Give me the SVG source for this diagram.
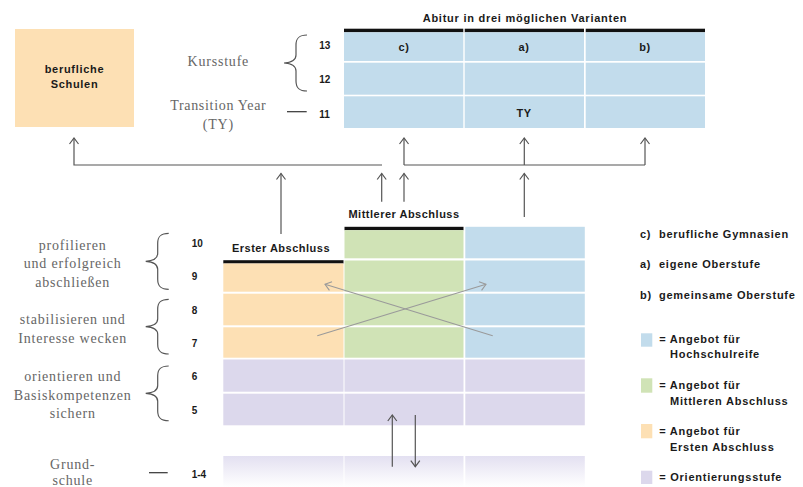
<svg xmlns="http://www.w3.org/2000/svg" width="803" height="487" viewBox="0 0 803 487">
<style>
.serif{font-family:"Liberation Serif","DejaVu Serif",serif;font-size:14px;fill:#666;letter-spacing:0.8px;text-anchor:middle}
.lbl{font-family:"Liberation Sans",Arial,sans-serif;font-weight:bold;font-size:11px;fill:#1a1a1a;letter-spacing:0.5px;text-anchor:middle}
.leg{font-family:"Liberation Sans",Arial,sans-serif;font-weight:bold;font-size:11px;fill:#1a1a1a;letter-spacing:0.75px}
.num{font-family:"Liberation Sans",Arial,sans-serif;font-weight:bold;font-size:10px;fill:#1a1a1a}
.blue{fill:#c2dcec}.green{fill:#d0e3b6}.orange{fill:#fde0b4}.purple{fill:#dcd8ec}.fade{fill:url(#fade)}
.bar{fill:#111}
.brace{fill:none;stroke:#555;stroke-width:1.2}
.dash{stroke:#333;stroke-width:1.2}
.conn{fill:none;stroke:#555;stroke-width:1.2}
.diag{fill:none;stroke:#9a9a9a;stroke-width:1.1}
</style>
<defs>
<linearGradient id="fade" x1="0" y1="0" x2="0" y2="1">
<stop offset="0" stop-color="#e3e0f1"/>
<stop offset="1" stop-color="#ffffff"/>
</linearGradient>
<marker id="ah" viewBox="-8 -6 10 12" refX="0" refY="0" markerWidth="10" markerHeight="12" markerUnits="userSpaceOnUse" orient="auto">
<path d="M-6,-4.5 L0,0 L-6,4.5" fill="none" stroke="#555" stroke-width="1.2"/>
</marker>
<marker id="ahg" viewBox="-8 -6 10 12" refX="0" refY="0" markerWidth="10" markerHeight="12" markerUnits="userSpaceOnUse" orient="auto">
<path d="M-6,-4.5 L0,0 L-6,4.5" fill="none" stroke="#9a9a9a" stroke-width="1.1"/>
</marker>
<path id="br" d="M23,0 C15,0 12,3 12,10 L12,20 C12,25 8,27.5 0,28 C8,28.5 12,31 12,36 L12,46 C12,53 15,56 23,56"/>
</defs>

<g id="berufliche-schulen">
<rect x="15" y="29" width="119" height="98" class="orange"/>
<text class="lbl" x="74.5" y="73.3" style="letter-spacing:0.7px">berufliche</text>
<text class="lbl" x="74.5" y="88" style="letter-spacing:0.7px">Schulen</text>
</g>

<g id="abitur-table">
<text class="lbl" x="525" y="21.5" style="letter-spacing:0.75px">Abitur in drei möglichen Varianten</text>
<rect x="344" y="28.7" width="119.3" height="3.6" class="bar"/>
<rect x="464.7" y="28.7" width="119.3" height="3.6" class="bar"/>
<rect x="585.7" y="28.7" width="119.3" height="3.6" class="bar"/>
<rect x="344" y="32.3" width="119.3" height="28.7" class="blue"/>
<rect x="464.7" y="32.3" width="119.3" height="28.7" class="blue"/>
<rect x="585.7" y="32.3" width="119.3" height="28.7" class="blue"/>
<rect x="344" y="62.7" width="119.3" height="32" class="blue"/>
<rect x="464.7" y="62.7" width="119.3" height="32" class="blue"/>
<rect x="585.7" y="62.7" width="119.3" height="32" class="blue"/>
<rect x="344" y="96.3" width="119.3" height="31.7" class="blue"/>
<rect x="464.7" y="96.3" width="119.3" height="31.7" class="blue"/>
<rect x="585.7" y="96.3" width="119.3" height="31.7" class="blue"/>
<text class="lbl" x="404" y="51">c)</text>
<text class="lbl" x="524" y="51">a)</text>
<text class="lbl" x="645" y="51">b)</text>
<text class="lbl" x="524" y="117">TY</text>
</g>

<g id="upper-labels">
<text class="serif" x="218.3" y="66">Kursstufe</text>
<text class="serif" x="218.3" y="110" style="letter-spacing:0.7px">Transition Year</text>
<text class="serif" x="218.3" y="129">(TY)</text>
<use href="#br" class="brace" transform="translate(284,35)"/>
<line x1="287" y1="111.7" x2="306.7" y2="111.7" class="dash"/>
<text class="num" x="319.3" y="49.3">13</text>
<text class="num" x="319.3" y="83">12</text>
<text class="num" x="319.3" y="117.6">11</text>
</g>

<g id="lower-table">
<rect x="344.5" y="226.8" width="119" height="3.4" class="bar"/>
<rect x="223.3" y="260.2" width="120.2" height="3.3" class="bar"/>
<text class="lbl" x="404" y="218">Mittlerer Abschluss</text>
<text class="lbl" x="281" y="252">Erster Abschluss</text>
<rect x="344.5" y="230.2" width="119" height="28.1" class="green"/>
<rect x="465.3" y="226.8" width="119.5" height="31.5" class="blue"/>
<rect x="223.3" y="263.5" width="120.2" height="28.2" class="orange"/>
<rect x="344.5" y="260.5" width="119" height="31.2" class="green"/>
<rect x="465.3" y="260.5" width="119.5" height="31.2" class="blue"/>
<rect x="223.3" y="293.7" width="120.2" height="31.6" class="orange"/>
<rect x="344.5" y="293.7" width="119" height="31.6" class="green"/>
<rect x="465.3" y="293.7" width="119.5" height="31.6" class="blue"/>
<rect x="223.3" y="327.3" width="120.2" height="30.4" class="orange"/>
<rect x="344.5" y="327.3" width="119" height="30.4" class="green"/>
<rect x="465.3" y="327.3" width="119.5" height="30.4" class="blue"/>
<rect x="223.3" y="359.5" width="120.2" height="32.2" class="purple"/>
<rect x="344.5" y="359.5" width="119" height="32.2" class="purple"/>
<rect x="465.3" y="359.5" width="119.5" height="32.2" class="purple"/>
<rect x="223.3" y="393.7" width="120.2" height="31.6" class="purple"/>
<rect x="344.5" y="393.7" width="119" height="31.6" class="purple"/>
<rect x="465.3" y="393.7" width="119.5" height="31.6" class="purple"/>
<rect x="223.3" y="456" width="120.2" height="31" class="fade"/>
<rect x="344.5" y="456" width="119" height="31" class="fade"/>
<rect x="465.3" y="456" width="119.5" height="31" class="fade"/>
</g>

<g id="lower-labels">
<text class="serif" x="72.7" y="250">profilieren</text>
<text class="serif" x="72.7" y="268.3">und erfolgreich</text>
<text class="serif" x="72.7" y="286.7">abschließen</text>
<text class="serif" x="72.7" y="324.3">stabilisieren und</text>
<text class="serif" x="72.7" y="342.7">Interesse wecken</text>
<text class="serif" x="72.7" y="381">orientieren und</text>
<text class="serif" x="72.7" y="400">Basiskompetenzen</text>
<text class="serif" x="72.7" y="418.3">sichern</text>
<text class="serif" x="72.7" y="469">Grund-</text>
<text class="serif" x="72.7" y="484.5">schule</text>
<use href="#br" class="brace" transform="translate(145.7,233.3)"/>
<use href="#br" class="brace" transform="translate(145.7,299.3) scale(1,0.977)"/>
<use href="#br" class="brace" transform="translate(145.7,366) scale(1,0.977)"/>
<line x1="149" y1="472.7" x2="167.7" y2="472.7" class="dash"/>
<text class="num" x="191.7" y="247">10</text>
<text class="num" x="191.7" y="280.3">9</text>
<text class="num" x="191.7" y="313.6">8</text>
<text class="num" x="191.7" y="347">7</text>
<text class="num" x="191.7" y="380.3">6</text>
<text class="num" x="191.7" y="413.6">5</text>
<text class="num" x="191.7" y="477.6">1-4</text>
</g>

<g id="connectors">
<polyline points="382,165 74,165 74,138" class="conn" marker-end="url(#ah)"/>
<line x1="404" y1="165" x2="645" y2="165" class="conn"/>
<line x1="404" y1="165" x2="404" y2="138" class="conn" marker-end="url(#ah)"/>
<line x1="524.3" y1="165" x2="524.3" y2="138" class="conn" marker-end="url(#ah)"/>
<line x1="645" y1="165" x2="645" y2="138" class="conn" marker-end="url(#ah)"/>
<line x1="281" y1="234" x2="281" y2="173.5" class="conn" marker-end="url(#ah)"/>
<line x1="381.7" y1="201.7" x2="381.7" y2="173.5" class="conn" marker-end="url(#ah)"/>
<line x1="404" y1="201.7" x2="404" y2="173.5" class="conn" marker-end="url(#ah)"/>
<line x1="524.3" y1="217" x2="524.3" y2="173.5" class="conn" marker-end="url(#ah)"/>
<line x1="317.3" y1="335.7" x2="486" y2="284.3" class="diag" marker-end="url(#ahg)"/>
<line x1="492.7" y1="335.7" x2="325" y2="284.3" class="diag" marker-end="url(#ahg)"/>
<line x1="392.3" y1="466.7" x2="392.3" y2="415" class="conn" marker-end="url(#ah)"/>
<line x1="415.3" y1="415" x2="415.3" y2="466.7" class="conn" marker-end="url(#ah)"/>
</g>

<g id="legend">
<text class="leg" x="640" y="238.3">c)</text><text class="leg" x="659" y="238.3">berufliche Gymnasien</text>
<text class="leg" x="640" y="268.3">a)</text><text class="leg" x="659" y="268.3">eigene Oberstufe</text>
<text class="leg" x="640" y="299">b)</text><text class="leg" x="659" y="299">gemeinsame Oberstufe</text>
<rect x="641" y="333.3" width="11.3" height="13.4" class="blue"/>
<text class="leg" x="659.3" y="343.3">= Angebot für</text>
<text class="leg" x="670" y="358.3">Hochschulreife</text>
<rect x="641" y="378.3" width="11.3" height="14.4" class="green"/>
<text class="leg" x="659.3" y="389">= Angebot für</text>
<text class="leg" x="670" y="404.7">Mittleren Abschluss</text>
<rect x="641" y="424" width="11.3" height="14.3" class="orange"/>
<text class="leg" x="659.3" y="435">= Angebot für</text>
<text class="leg" x="670" y="450.7">Ersten Abschluss</text>
<rect x="641" y="470.7" width="11.3" height="13.3" class="purple"/>
<text class="leg" x="659.3" y="480.7">= Orientierungsstufe</text>
</g>
</svg>
